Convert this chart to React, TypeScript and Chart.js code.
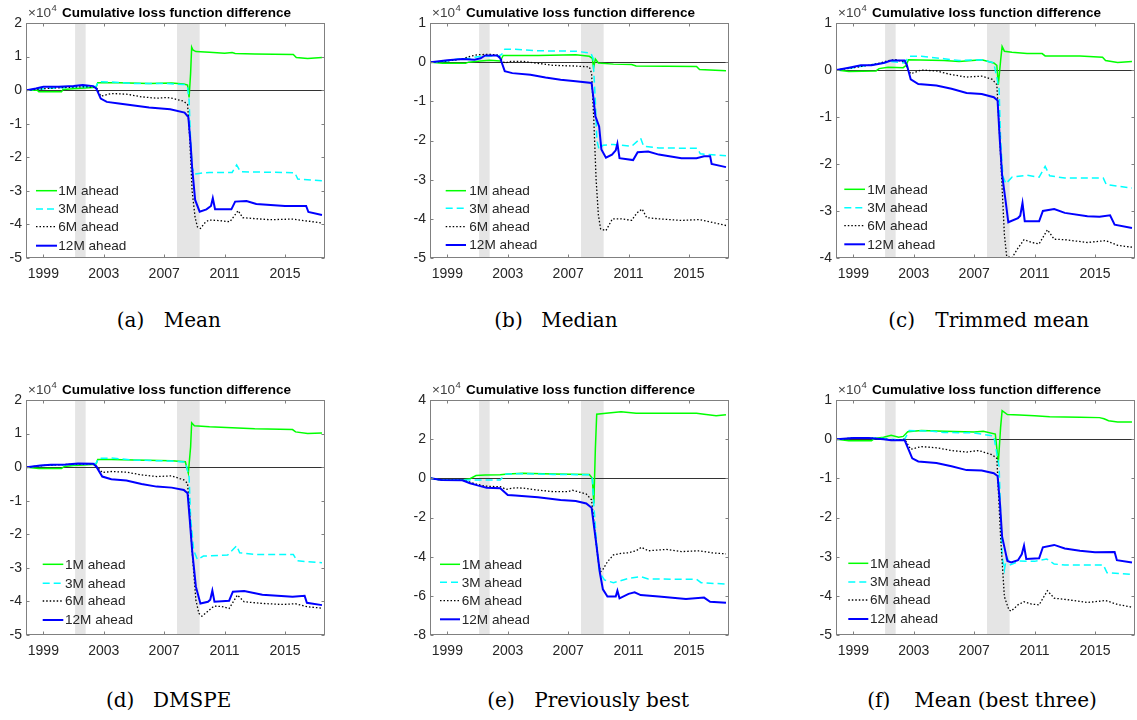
import React, { useEffect, useRef } from "react";
import { Chart, registerables } from "chart.js";

Chart.register(...registerables);

type Pt = [number, number];

// ---------------- data ----------------
const xTicks = [1999, 2003, 2007, 2011, 2015];
const xMin = 1997.85;
const xMax = 2017.65;
const recessions: Pt[] = [
  [2001.1, 2001.8],
  [2007.85, 2009.35],
];
const seriesLabels = ["1M ahead", "3M ahead", "6M ahead", "12M ahead"];
const panelLabels = ["(a)", "(b)", "(c)", "(d)", "(e)", "(f)"];
const panelNames = ["Mean", "Median", "Trimmed mean", "DMSPE", "Previously best", "Mean (best three)"];
const titleText = "Cumulative loss function difference";
const exponentBase = "×10";
const exponentPower = "4";

const yTicksA = [-5, -4, -3, -2, -1, 0, 1, 2];
const yTicksB = [-5, -4, -3, -2, -1, 0, 1];
const yTicksC = [-4, -3, -2, -1, 0, 1];
const yTicksD = [-5, -4, -3, -2, -1, 0, 1, 2];
const yTicksE = [-8, -6, -4, -2, 0, 2, 4];
const yTicksF = [-5, -4, -3, -2, -1, 0, 1];

// (a) Mean
const meanH1: Pt[] = [[1997.9,0],[1998.6,0],[1998.7,-0.05],[2000.2,-0.05],[2000.3,0.02],[2001.2,0.05],[2002.3,0.08],[2002.5,0.1],[2002.6,0.22],[2004,0.22],[2006,0.2],[2007.5,0.21],[2008.3,0.18],[2008.55,0.15],[2008.65,-0.22],[2008.75,0.5],[2008.82,1.28],[2008.9,1.2],[2009.1,1.15],[2010,1.13],[2011,1.1],[2011.5,1.12],[2011.7,1.09],[2013,1.08],[2015.55,1.06],[2015.75,0.97],[2016.5,0.94],[2017.45,0.97]];
const meanH3: Pt[] = [[1997.9,0],[1998.7,0.03],[1999.5,0.06],[2000.5,0.08],[2001.2,0.1],[2002.3,0.1],[2002.5,0.12],[2002.65,0.25],[2003.5,0.24],[2005,0.2],[2007,0.2],[2008.3,0.17],[2008.55,0.1],[2008.65,-0.3],[2008.75,-1.5],[2008.85,-2.3],[2009.0,-2.5],[2009.3,-2.48],[2010,-2.45],[2011.5,-2.45],[2011.8,-2.23],[2012.05,-2.43],[2015.65,-2.46],[2015.85,-2.65],[2017.45,-2.7]];
const meanH6: Pt[] = [[1997.9,0],[1998.7,0.03],[1999.5,0.06],[2000.5,0.08],[2001.5,0.1],[2002.3,0.1],[2002.55,0.05],[2002.8,-0.18],[2003.5,-0.1],[2004.5,-0.12],[2005.5,-0.2],[2006.5,-0.24],[2007.2,-0.22],[2007.6,-0.25],[2008.3,-0.33],[2008.55,-0.43],[2008.7,-1.5],[2008.85,-3.0],[2009.05,-3.8],[2009.2,-4.07],[2009.4,-4.12],[2009.7,-3.95],[2009.95,-3.87],[2010.5,-3.88],[2011.35,-3.92],[2011.9,-3.59],[2012.2,-3.8],[2014,-3.86],[2015.5,-3.84],[2015.8,-3.86],[2016.5,-3.9],[2017.45,-3.96]];
const meanH12: Pt[] = [[1997.9,0],[1998.5,0.05],[1999,0.1],[2000,0.1],[2001,0.12],[2001.6,0.15],[2002.3,0.12],[2002.5,0.05],[2002.8,-0.25],[2003.2,-0.35],[2004,-0.4],[2005,-0.46],[2006,-0.52],[2007.4,-0.57],[2008.35,-0.67],[2008.6,-0.8],[2008.75,-1.6],[2008.85,-2.3],[2009.05,-3.27],[2009.35,-3.62],[2009.8,-3.55],[2010.1,-3.45],[2010.22,-3.22],[2010.37,-3.55],[2011.45,-3.55],[2011.7,-3.32],[2012.45,-3.3],[2013.1,-3.39],[2015,-3.45],[2016.4,-3.45],[2016.55,-3.63],[2017.45,-3.72]];

// (b) Median
const medianH1: Pt[] = [[1997.9,0],[1998.7,-0.03],[2000.2,-0.03],[2000.4,0],[2001.2,0.03],[2001.8,0.05],[2002.5,0.03],[2002.7,0.17],[2005,0.17],[2007.5,0.19],[2008.4,0.15],[2008.6,0.1],[2008.68,-0.15],[2008.8,0.08],[2009.0,-0.02],[2010,-0.05],[2011.2,-0.06],[2011.5,-0.1],[2015.5,-0.11],[2015.7,-0.19],[2017.45,-0.22]];
const medianH3: Pt[] = [[1997.9,0],[1999,0.03],[1999.7,0.08],[2000.5,0.1],[2001,0.14],[2001.5,0.16],[2002.4,0.16],[2002.6,0.2],[2002.8,0.33],[2003.5,0.33],[2005,0.29],[2007.5,0.28],[2008.5,0.23],[2008.65,0.1],[2008.8,-1.0],[2008.9,-2.0],[2009.05,-2.23],[2009.3,-2.12],[2010.0,-2.1],[2011.2,-2.15],[2011.8,-1.94],[2012.0,-2.15],[2013,-2.19],[2015.55,-2.2],[2015.75,-2.34],[2017.45,-2.39]];
const medianH6: Pt[] = [[1997.9,0],[1999,0.03],[2000,0.08],[2000.5,0.15],[2001,0.19],[2001.8,0.2],[2002.4,0.18],[2002.6,0.05],[2002.8,-0.02],[2003.2,0.02],[2004,0.02],[2005,-0.03],[2006,-0.08],[2007.5,-0.1],[2008.4,-0.12],[2008.55,-0.28],[2008.7,-1.5],[2008.85,-3.0],[2009.0,-3.9],[2009.15,-4.26],[2009.5,-4.3],[2009.93,-4.0],[2010.5,-4.0],[2011.2,-4.04],[2011.55,-3.85],[2011.9,-3.75],[2012.2,-3.97],[2013,-4.0],[2014.5,-4.04],[2015.7,-4.02],[2017.45,-4.17]];
const medianH12: Pt[] = [[1997.9,0],[1999,0.05],[2000,0.08],[2000.8,0.06],[2001.2,0.1],[2001.5,0.17],[2002.3,0.17],[2002.5,0.1],[2002.8,-0.23],[2003.3,-0.28],[2004.5,-0.32],[2005.5,-0.39],[2006.5,-0.45],[2007.5,-0.49],[2008.55,-0.53],[2008.7,-1.0],[2008.8,-1.38],[2009.05,-1.64],[2009.2,-2.23],[2009.5,-2.44],[2009.9,-2.36],[2010.15,-2.25],[2010.26,-2.08],[2010.4,-2.45],[2011.3,-2.5],[2011.6,-2.3],[2012.3,-2.28],[2013,-2.36],[2014.5,-2.45],[2015.5,-2.45],[2016,-2.4],[2016.4,-2.4],[2016.5,-2.6],[2017.45,-2.68]];

// (c) Trimmed mean
const trimH1: Pt[] = [[1997.9,0],[1998.7,-0.03],[2000.5,-0.02],[2000.7,0.03],[2001.3,0.06],[2002.3,0.05],[2002.5,0.1],[2002.65,0.22],[2005,0.2],[2006,0.18],[2007.5,0.22],[2008.3,0.15],[2008.5,0.1],[2008.6,-0.31],[2008.75,0.2],[2008.85,0.5],[2009.0,0.4],[2009.5,0.38],[2010.5,0.35],[2011.5,0.35],[2011.7,0.3],[2014,0.3],[2015.5,0.27],[2015.7,0.2],[2016.5,0.16],[2017.45,0.18]];
const trimH3: Pt[] = [[1997.9,0],[1999,0.05],[2000,0.1],[2001,0.15],[2001.5,0.18],[2002.3,0.15],[2002.5,0.2],[2002.7,0.29],[2003.5,0.29],[2005,0.24],[2006,0.2],[2007.5,0.22],[2008.3,0.15],[2008.65,-0.4],[2008.75,-1.5],[2008.9,-2.26],[2009.1,-2.42],[2009.5,-2.28],[2010.5,-2.24],[2011.3,-2.28],[2011.7,-2.05],[2012.0,-2.25],[2013,-2.3],[2015.55,-2.3],[2015.75,-2.44],[2017.45,-2.51]];
const trimH6: Pt[] = [[1997.9,0],[1999,0.05],[2000,0.1],[2000.8,0.15],[2001.3,0.2],[2001.8,0.22],[2002.4,0.17],[2002.6,0.02],[2002.8,-0.08],[2003.5,0],[2004.5,-0.02],[2005.5,-0.1],[2006.5,-0.15],[2007.5,-0.13],[2008.2,-0.2],[2008.5,-0.31],[2008.7,-1.5],[2008.85,-2.5],[2009.0,-3.5],[2009.15,-3.96],[2009.5,-4.0],[2009.9,-3.79],[2010.3,-3.61],[2010.8,-3.67],[2011.3,-3.7],[2011.85,-3.4],[2012.3,-3.6],[2013,-3.61],[2014.5,-3.67],[2015.7,-3.63],[2016.5,-3.73],[2017.45,-3.77]];
const trimH12: Pt[] = [[1997.9,0],[1998.7,0.05],[1999.5,0.1],[2000.2,0.1],[2001,0.15],[2001.5,0.2],[2002.4,0.2],[2002.55,0.1],[2002.8,-0.2],[2003.3,-0.3],[2004.5,-0.33],[2005.5,-0.4],[2006.5,-0.49],[2007.5,-0.51],[2008.3,-0.58],[2008.55,-0.65],[2008.7,-1.5],[2008.85,-2.23],[2009.1,-2.83],[2009.26,-3.24],[2009.9,-3.15],[2010.05,-3.1],[2010.2,-2.83],[2010.35,-3.22],[2011.3,-3.22],[2011.55,-3.0],[2012.3,-2.96],[2013,-3.04],[2014.5,-3.11],[2015.3,-3.12],[2016,-3.09],[2016.3,-3.29],[2017.45,-3.36]];

// (d) DMSPE
const dmspeH1: Pt[] = [[1997.9,0],[1998.7,-0.04],[2000.2,-0.04],[2000.4,0.02],[2001,0.05],[2002.3,0.08],[2002.5,0.1],[2002.6,0.23],[2003.5,0.23],[2005,0.21],[2007.5,0.19],[2008.4,0.16],[2008.6,-0.18],[2008.75,0.6],[2008.82,1.32],[2009.0,1.23],[2010,1.2],[2011.5,1.17],[2013,1.14],[2015.5,1.12],[2015.7,1.05],[2016.5,1.0],[2017.45,1.02]];
const dmspeH3: Pt[] = [[1997.9,0],[1999,0.05],[2001,0.08],[2002.3,0.1],[2002.5,0.12],[2002.65,0.26],[2003.5,0.27],[2005,0.21],[2007.5,0.18],[2008.4,0.15],[2008.65,-0.28],[2008.75,-1.5],[2008.95,-2.47],[2009.2,-2.75],[2009.6,-2.65],[2011.2,-2.62],[2011.8,-2.34],[2012.0,-2.55],[2013,-2.6],[2015.55,-2.6],[2015.8,-2.79],[2017.45,-2.85]];
const dmspeH6: Pt[] = [[1997.9,0],[1999,0.05],[2000.5,0.08],[2002.3,0.1],[2002.55,0.02],[2002.9,-0.16],[2003.5,-0.13],[2004.5,-0.15],[2005.5,-0.23],[2006.5,-0.28],[2007.5,-0.26],[2008.3,-0.38],[2008.55,-0.48],[2008.7,-1.5],[2008.85,-2.5],[2009.1,-3.96],[2009.3,-4.36],[2009.5,-4.44],[2009.9,-4.29],[2010.3,-4.14],[2010.8,-4.15],[2011.3,-4.21],[2011.85,-3.81],[2012.3,-4.01],[2013.5,-4.06],[2014.8,-4.09],[2015.7,-4.07],[2016.5,-4.16],[2017.45,-4.2]];
const dmspeH12: Pt[] = [[1997.9,0],[1998.8,0.05],[1999.5,0.07],[2000.5,0.08],[2001.3,0.11],[2002.3,0.1],[2002.5,0.02],[2002.9,-0.28],[2003.5,-0.36],[2004.5,-0.4],[2005.5,-0.5],[2006.5,-0.58],[2007.5,-0.61],[2008.3,-0.68],[2008.55,-0.78],[2008.7,-1.6],[2008.85,-2.47],[2009.1,-3.56],[2009.4,-4.06],[2009.9,-4.01],[2010.05,-3.95],[2010.19,-3.68],[2010.33,-4.01],[2011.3,-3.98],[2011.55,-3.71],[2012.3,-3.69],[2013.5,-3.8],[2015.5,-3.86],[2016.3,-3.83],[2016.45,-4.04],[2017.45,-4.11]];

// (e) Previously best
const prevH1: Pt[] = [[1997.9,0],[1998.6,-0.09],[2000,-0.09],[2000.5,-0.02],[2000.9,0.14],[2001.5,0.17],[2002.5,0.18],[2003,0.22],[2004,0.26],[2006,0.22],[2008.4,0.19],[2008.6,0.0],[2008.7,-1.28],[2008.8,1.5],[2008.89,3.27],[2009.5,3.32],[2010.5,3.4],[2011.5,3.32],[2014,3.32],[2015.5,3.32],[2016,3.27],[2016.8,3.2],[2017.45,3.25]];
const prevH3: Pt[] = [[1997.9,0],[1998.6,-0.09],[2000,-0.09],[2002.5,-0.09],[2002.7,0.1],[2002.9,0.22],[2004,0.24],[2006,0.2],[2008.4,0.18],[2008.6,0.0],[2008.7,-1.4],[2008.85,-3.0],[2009.0,-4.43],[2009.1,-4.82],[2009.4,-5.19],[2010,-5.33],[2011,-5.11],[2011.8,-5.02],[2012.3,-5.14],[2015.5,-5.16],[2015.8,-5.33],[2017.45,-5.4]];
const prevH6: Pt[] = [[1997.9,0],[1998.6,-0.09],[2000,-0.1],[2000.5,-0.2],[2001,-0.31],[2001.5,-0.4],[2002.5,-0.43],[2002.9,-0.56],[2003.5,-0.48],[2004,-0.5],[2005,-0.6],[2006,-0.68],[2007,-0.68],[2007.3,-0.61],[2008.2,-0.8],[2008.55,-1.1],[2008.8,-2.98],[2009.0,-4.26],[2009.15,-4.77],[2009.3,-4.65],[2009.6,-4.26],[2010,-3.91],[2010.5,-3.83],[2011,-3.8],[2011.5,-3.7],[2011.85,-3.52],[2012.3,-3.7],[2013.5,-3.63],[2014.5,-3.74],[2015.7,-3.7],[2016.5,-3.8],[2017.45,-3.86]];
const prevH12: Pt[] = [[1997.9,0],[1998.6,-0.09],[2000,-0.1],[2000.5,-0.25],[2001,-0.36],[2001.6,-0.48],[2002.5,-0.51],[2003,-0.85],[2003.5,-0.88],[2005,-0.97],[2006.5,-1.11],[2007.5,-1.16],[2008.2,-1.28],[2008.55,-1.5],[2008.8,-2.98],[2009.1,-4.82],[2009.3,-5.67],[2009.6,-6.04],[2010.15,-6.04],[2010.26,-5.74],[2010.4,-6.13],[2011,-5.9],[2011.4,-5.82],[2011.8,-5.96],[2013,-6.04],[2014.8,-6.16],[2016,-6.09],[2016.4,-6.3],[2017.45,-6.35]];

// (f) Mean (best three)
const best3H1: Pt[] = [[1997.9,0],[1998.7,-0.04],[2000.2,-0.04],[2000.4,0.02],[2001,0.05],[2001.5,0.1],[2002,0.05],[2002.3,0.07],[2002.6,0.19],[2003.5,0.22],[2005,0.2],[2007,0.18],[2007.6,0.2],[2008.4,0.13],[2008.6,-0.6],[2008.75,0.3],[2008.85,0.73],[2009.2,0.63],[2010,0.62],[2011,0.6],[2012,0.57],[2014,0.56],[2015.3,0.55],[2015.6,0.52],[2015.9,0.47],[2016.5,0.44],[2017.45,0.44]];
const best3H3: Pt[] = [[1997.9,0],[1999,0.03],[2000,0.03],[2001,0.02],[2002,-0.02],[2002.4,0],[2002.7,0.22],[2004,0.21],[2005,0.17],[2007,0.16],[2008.3,0.08],[2008.65,-0.7],[2008.85,-3.0],[2009.0,-3.34],[2009.15,-3.0],[2009.4,-3.21],[2010,-3.11],[2011,-3.12],[2011.8,-3.06],[2012.3,-3.19],[2013,-3.21],[2015.55,-3.21],[2015.8,-3.41],[2017.45,-3.45]];
const best3H6: Pt[] = [[1997.9,0],[1999,0.03],[2000,0.03],[2001,0],[2002,-0.03],[2002.4,0],[2002.8,-0.26],[2003.5,-0.19],[2004.5,-0.22],[2005.5,-0.29],[2006.5,-0.33],[2007.3,-0.29],[2008.2,-0.4],[2008.5,-0.49],[2008.75,-2.5],[2009.0,-4.02],[2009.3,-4.36],[2009.45,-4.39],[2009.9,-4.23],[2010.3,-4.15],[2010.8,-4.21],[2011.3,-4.23],[2011.85,-3.87],[2012.3,-4.06],[2013,-4.09],[2014.5,-4.17],[2015.7,-4.12],[2016.5,-4.22],[2017.45,-4.29]];
const best3H12: Pt[] = [[1997.9,0],[1999,0.03],[2000,0.03],[2001,0],[2001.5,-0.03],[2002.4,-0.03],[2002.9,-0.49],[2003.3,-0.57],[2004.5,-0.61],[2005.5,-0.69],[2006.5,-0.79],[2007.5,-0.8],[2008.3,-0.87],[2008.55,-0.94],[2008.7,-1.6],[2008.85,-2.49],[2009.2,-3.11],[2009.45,-3.15],[2009.9,-3.09],[2010.15,-2.94],[2010.3,-2.72],[2010.45,-3.06],[2011.3,-3.04],[2011.55,-2.76],[2012.3,-2.7],[2013,-2.79],[2014,-2.85],[2015,-2.89],[2016.3,-2.88],[2016.45,-3.09],[2017.45,-3.15]];

const panelSeries: Pt[][][] = [
  [meanH1, meanH3, meanH6, meanH12],
  [medianH1, medianH3, medianH6, medianH12],
  [trimH1, trimH3, trimH6, trimH12],
  [dmspeH1, dmspeH3, dmspeH6, dmspeH12],
  [prevH1, prevH3, prevH6, prevH12],
  [best3H1, best3H3, best3H6, best3H12],
];
const panelYTicks = [yTicksA, yTicksB, yTicksC, yTicksD, yTicksE, yTicksF];

// ---------------- styles / layout ----------------
const FONT = '"Liberation Sans", Arial, Helvetica, sans-serif';
const lineStyles = [
  { color: "#00ff00", width: 1.5, dash: [] as number[] },
  { color: "#00ffff", width: 1.5, dash: [7, 4] },
  { color: "#000000", width: 1.3, dash: [1.5, 2] },
  { color: "#0000ff", width: 2, dash: [] as number[] },
];
const colLefts = [26, 430, 836];
const rowTops = [23, 400];
const PLOT_W = 299;
const PLOT_H = 235;
const Y_AXIS_W = 40;
const X_AXIS_H = 30;
const PAD_TOP = 23;
const PAD_RIGHT = 2;

const legendLayouts = [
  { l0: 10, l1: 31, t: 32.3, rows: [-67.3, -49, -31.3, -12.3] },
  { l0: 15.7, l1: 36, t: 39.3, rows: [-67.3, -49.7, -31.3, -13] },
  { l0: 8.3, l1: 29, t: 31.3, rows: [-68.7, -50.3, -32.3, -13.7] },
  { l0: 16.7, l1: 37.3, t: 39, rows: [-70.7, -51.7, -34, -15] },
  { l0: 10, l1: 30, t: 31.7, rows: [-70.7, -52.7, -34.3, -15.7] },
  { l0: 12.3, l1: 32.3, t: 34, rows: [-71.7, -53, -35, -16] },
];
const captionLefts = [116.7, 494.3, 888.3, 106, 487.3, 867.3];
const captionGap = 47;
const captionTops = [310, 690];

function makePlugins(idx: number) {
  const lg = legendLayouts[idx];
  return [
    {
      id: "bandsZero",
      beforeDatasetsDraw(chart: any) {
        const { ctx, chartArea: a, scales } = chart;
        ctx.save();
        ctx.fillStyle = "#e5e5e5";
        for (const [s, e] of recessions) {
          const x0 = scales.x.getPixelForValue(s);
          const x1 = scales.x.getPixelForValue(e);
          ctx.fillRect(x0, a.top, x1 - x0, a.bottom - a.top);
        }
        const y0 = Math.round(scales.y.getPixelForValue(0)) + 0.5;
        ctx.strokeStyle = "#333333";
        ctx.lineWidth = 1;
        ctx.beginPath();
        ctx.moveTo(a.left, y0);
        ctx.lineTo(a.right, y0);
        ctx.stroke();
        ctx.restore();
      },
    },
    {
      id: "frameTicks",
      afterDatasetsDraw(chart: any) {
        const { ctx, chartArea: a, scales } = chart;
        ctx.save();
        ctx.strokeStyle = "#808080";
        ctx.lineWidth = 1;
        const L = Math.round(a.left) + 0.5;
        const R = Math.round(a.right) - 0.5;
        const T = Math.round(a.top) + 0.5;
        const B = Math.round(a.bottom) - 0.5;
        ctx.strokeRect(L, T, R - L, B - T);
        ctx.beginPath();
        for (const t of scales.y.ticks) {
          const y = Math.round(scales.y.getPixelForValue(t.value)) + 0.5;
          ctx.moveTo(L, y); ctx.lineTo(L + 3, y);
          ctx.moveTo(R, y); ctx.lineTo(R - 3, y);
        }
        for (const t of scales.x.ticks) {
          const x = Math.round(scales.x.getPixelForValue(t.value)) + 0.5;
          ctx.moveTo(x, T); ctx.lineTo(x, T + 3);
          ctx.moveTo(x, B); ctx.lineTo(x, B - 3);
        }
        ctx.stroke();
        ctx.restore();
      },
    },
    {
      id: "matlabLegendTitle",
      afterDraw(chart: any) {
        const { ctx, chartArea: a } = chart;
        ctx.save();
        // legend
        chart.data.datasets.forEach((ds: any, i: number) => {
          const y = a.bottom + lg.rows[i];
          ctx.strokeStyle = ds.borderColor;
          ctx.lineWidth = ds.borderWidth;
          ctx.setLineDash(ds.borderDash || []);
          ctx.beginPath();
          ctx.moveTo(a.left + lg.l0, y);
          ctx.lineTo(a.left + lg.l1, y);
          ctx.stroke();
          ctx.setLineDash([]);
          ctx.fillStyle = "#262626";
          ctx.font = `13.6px ${FONT}`;
          ctx.textAlign = "left";
          ctx.textBaseline = "middle";
          ctx.fillText(ds.label, a.left + lg.t, y + 0.5);
        });
        // exponent + title
        const base = a.top - 6.5;
        ctx.textBaseline = "alphabetic";
        ctx.textAlign = "left";
        ctx.fillStyle = "#404040";
        ctx.font = `13.5px ${FONT}`;
        const x0 = a.left + 2;
        ctx.fillText(exponentBase, x0, base);
        const w = ctx.measureText(exponentBase).width;
        ctx.font = `9.5px ${FONT}`;
        ctx.fillText(exponentPower, x0 + w + 0.5, base - 5.5);
        ctx.fillStyle = "#000000";
        ctx.font = `bold 13.5px ${FONT}`;
        ctx.textAlign = "center";
        ctx.fillText(titleText, (a.left + a.right) / 2 + 1, base);
        ctx.restore();
      },
    },
  ];
}

function Panel({ idx }: { idx: number }) {
  const ref = useRef<HTMLCanvasElement | null>(null);
  const col = idx % 3;
  const row = Math.floor(idx / 3);
  const canvasLeft = colLefts[col] - Y_AXIS_W;
  const canvasTop = rowTops[row] - PAD_TOP;
  const W = Y_AXIS_W + PLOT_W + PAD_RIGHT;
  const H = PAD_TOP + PLOT_H + X_AXIS_H;

  useEffect(() => {
    if (!ref.current) return;
    const yt = panelYTicks[idx];
    const tickFont = { family: FONT, size: 14 };
    const chart = new Chart(ref.current, {
      type: "line",
      data: {
        datasets: panelSeries[idx].map((s, i) => ({
          label: seriesLabels[i],
          data: s.map(([x, y]) => ({ x, y })),
          borderColor: lineStyles[i].color,
          borderWidth: lineStyles[i].width,
          borderDash: lineStyles[i].dash,
          pointRadius: 0,
          tension: 0,
          fill: false,
          order: 4 - i,
        })),
      },
      options: {
        animation: false,
        responsive: true,
        maintainAspectRatio: false,
        events: [],
        layout: { padding: { top: PAD_TOP, right: PAD_RIGHT, left: 0, bottom: 0 } },
        plugins: { legend: { display: false }, tooltip: { enabled: false }, title: { display: false } },
        scales: {
          x: {
            type: "linear",
            min: xMin,
            max: xMax,
            grid: { display: false, drawTicks: false },
            border: { display: false },
            afterBuildTicks: (s: any) => {
              s.ticks = xTicks.map((v) => ({ value: v }));
            },
            afterFit: (s: any) => {
              s.height = X_AXIS_H;
            },
            ticks: {
              autoSkip: false,
              maxRotation: 0,
              minRotation: 0,
              padding: 8,
              color: "#262626",
              font: tickFont,
              callback: (v: any) => String(v),
            },
          },
          y: {
            type: "linear",
            min: yt[0],
            max: yt[yt.length - 1],
            grid: { display: false, drawTicks: false },
            border: { display: false },
            afterBuildTicks: (s: any) => {
              s.ticks = yt.map((v) => ({ value: v }));
            },
            afterFit: (s: any) => {
              s.width = Y_AXIS_W;
            },
            ticks: {
              autoSkip: false,
              padding: 4,
              color: "#262626",
              font: tickFont,
              callback: (v: any) => String(v),
            },
          },
        },
      } as any,
      plugins: makePlugins(idx) as any,
    });
    return () => chart.destroy();
  }, [idx]);

  return (
    <div style={{ position: "absolute", left: canvasLeft, top: canvasTop, width: W, height: H }}>
      <canvas ref={ref} />
    </div>
  );
}

function Caption({ idx }: { idx: number }) {
  const row = Math.floor(idx / 3);
  const left = captionLefts[idx];
  const style: React.CSSProperties = {
    position: "absolute",
    top: captionTops[row],
    fontFamily: '"DejaVu Serif", "Liberation Serif", serif',
    fontSize: 20,
    lineHeight: "20px",
    color: "#000",
    whiteSpace: "nowrap",
  };
  return (
    <>
      <div style={{ ...style, left }}>{panelLabels[idx]}</div>
      <div style={{ ...style, left: left + captionGap }}>{panelNames[idx]}</div>
    </>
  );
}

export default function App() {
  const ids = [0, 1, 2, 3, 4, 5];
  return (
    <div
      style={{
        position: "absolute",
        left: 0,
        top: 0,
        width: 1137,
        height: 720,
        background: "#ffffff",
        overflow: "hidden",
      }}
    >
      {ids.map((i) => (
        <Panel key={`p${i}`} idx={i} />
      ))}
      {ids.map((i) => (
        <Caption key={`c${i}`} idx={i} />
      ))}
    </div>
  );
}
